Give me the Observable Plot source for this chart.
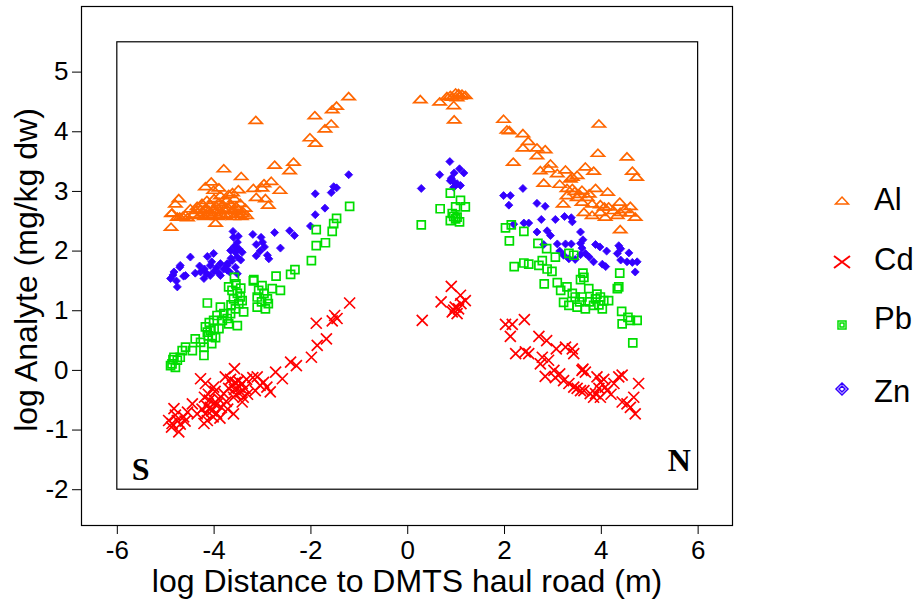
<!DOCTYPE html>
<html>
<head>
<meta charset="utf-8">
<script src="https://cdn.jsdelivr.net/npm/d3@7"></script>
<script src="https://cdn.jsdelivr.net/npm/@observablehq/plot@0.6"></script>
<style>
  html, body { margin: 0; padding: 0; background: #fff; }
  #wrap { position: relative; width: 914px; height: 614px; }
  #legend { position: absolute; left: 0; top: 0; pointer-events: none; }
</style>
</head>
<body>
<div id="wrap"></div>
<script>
// ---------- data ----------
const xTicks = [-6, -4, -2, 0, 2, 4, 6];
const yTicks = [-2, -1, 0, 1, 2, 3, 4, 5];
const xTitle = "log Distance to DMTS haul road (m)";
const yTitle = "log Analyte (mg/kg dw)";
const seriesNames = ["Al", "Cd", "Pb", "Zn"];
const seriesColors = ["#FF6600", "#FF0000", "#00DD00", "#3300FF"];
const cornerLabels = [{x: -5.52, y: -1.66, label: "S"}, {x: 5.61, y: -1.52, label: "N"}];
const innerBox = [{x1: -6, x2: 6, y1: -2, y2: 5.5}];

const al = [
  [-4.89,2.40],[-4.88,2.63],[-4.87,2.64],[-4.80,2.79],[-4.73,2.88],[-4.76,2.57],[-4.59,2.60],[-4.49,2.71],[-4.71,2.57],[-4.65,2.58],[-4.55,2.56],
  [-4.42,2.62],[-4.38,2.68],[-4.35,2.75],[-4.30,2.60],[-4.28,2.70],[-4.25,2.80],[-4.22,2.65],[-4.20,2.58],[-4.18,2.72],[-4.15,2.85],[-4.12,2.62],
  [-4.10,2.68],[-4.08,2.78],[-4.05,2.60],[-4.02,2.70],[-4.00,2.88],[-3.98,2.65],[-3.95,2.75],[-3.92,2.58],[-3.90,2.82],[-3.88,2.68],[-3.85,2.62],
  [-3.82,2.78],[-3.80,2.70],[-3.76,2.60],[-3.74,2.85],[-3.70,2.72],[-3.68,2.62],[-3.65,2.78],[-3.62,2.68],[-3.60,2.58],[-3.58,2.88],[-3.55,2.75],
  [-3.52,2.62],[-3.50,2.70],[-3.46,2.80],[-3.44,2.58],[-3.40,2.66],[-3.36,2.72],[-3.33,2.60],[-3.42,2.63],
  [-3.97,2.47],[-4.06,3.16],[-4.18,3.08],[-3.90,3.06],[-4.01,3.02],[-3.87,2.93],[-3.80,3.38],[-3.44,3.25],[-3.50,3.03],[-3.19,3.05],
  [-3.14,4.19],[-3.13,2.90],[-3.01,3.06],[-2.97,3.13],[-2.94,2.88],[-2.88,2.77],[-2.82,3.17],[-2.75,3.44],[-2.64,3.02],[-2.44,3.35],
  [-2.36,3.49],[-2.02,3.90],[-1.91,3.81],[-1.92,4.27],[-1.71,4.05],[-1.58,4.13],[-1.56,4.37],[-1.47,4.43],[-1.22,4.59],[-3.70,2.95],[-3.62,2.98],
  [0.26,4.54],[0.66,4.50],[0.95,4.44],[0.81,4.59],[0.88,4.61],[0.99,4.65],[1.05,4.64],[1.12,4.63],[1.19,4.61],[0.96,4.20],[0.92,4.58],[1.02,4.57],[1.08,4.60],
  [1.98,4.21],[2.05,4.03],[2.10,4.02],[2.38,3.97],[2.49,3.84],[2.38,3.73],[2.67,3.73],[2.84,3.70],[2.67,3.60],[2.18,3.49],[2.95,3.46],
  [2.74,3.35],[2.91,3.38],[3.09,3.30],[3.26,3.36],[3.36,3.21],[3.40,3.24],[3.50,3.27],[3.67,3.41],[3.84,3.34],[3.93,3.64],[3.95,4.13],
  [4.53,3.58],[4.64,3.34],[4.73,3.24],[2.81,3.14],[3.14,3.12],[3.29,3.05],[3.40,3.05],[3.60,3.02],[3.88,3.05],[4.13,2.99],[3.29,2.93],
  [3.50,2.90],[3.71,2.90],[3.21,2.79],[3.60,2.82],[3.81,2.79],[3.98,2.78],[4.06,2.74],[4.15,2.74],[4.38,2.82],[4.60,2.75],[3.64,2.65],
  [3.81,2.60],[3.98,2.65],[4.08,2.57],[4.33,2.60],[4.39,2.65],[4.59,2.64],[4.70,2.57],[4.39,2.36],[3.45,3.00],[3.55,2.95],[3.75,2.96],[4.25,2.68],[4.48,2.70]
];

const cd = [
  [-1.20,1.13],[-1.51,0.92],[-1.46,0.87],[-1.56,0.83],[-1.89,0.79],[-1.68,0.53],[-1.87,0.42],[-1.99,0.22],[-2.42,0.14],[-2.30,0.08],
  [-2.73,-0.03],[-2.59,-0.14],[-2.98,-0.20],[-2.91,-0.28],[-2.84,-0.36],[-3.11,-0.11],[-3.15,-0.34],[-3.58,0.03],[-3.77,-0.11],[-3.56,-0.20],
  [-3.66,-0.15],[-3.62,-0.25],[-3.58,-0.32],[-3.55,-0.40],[-3.50,-0.18],[-3.48,-0.28],[-3.45,-0.36],[-3.42,-0.22],[-3.40,-0.45],[-3.36,-0.30],
  [-3.33,-0.15],[-3.31,-0.40],[-3.60,-0.45],[-3.70,-0.30],[-3.42,-0.53],[-3.60,-0.73],[-3.80,-0.39],[-3.94,-0.56],[-4.08,-0.62],[-4.18,-0.73],
  [-4.14,-0.84],[-4.21,-0.89],[-4.28,-0.14],[-4.18,-0.22],[-4.01,-0.28],[-4.45,-0.56],[-4.35,-0.73],[-4.83,-0.64],[-4.87,-0.89],[-4.76,-0.84],
  [-4.63,-0.78],[-4.73,-1.03],[-4.94,-0.84],[-4.10,-0.50],[-4.05,-0.68],[-4.00,-0.55],[-3.95,-0.72],[-3.90,-0.48],[-3.85,-0.62],[-4.15,-0.60],
  [-4.20,-0.45],[-3.75,-0.52],[-3.88,-0.80],[-4.02,-0.78],[-3.72,-0.65],[-4.25,-0.65],[-4.12,-0.40],[-4.55,-0.70],[-4.70,-0.90],[-4.80,-0.75],
  [-4.88,-0.95],[-4.60,-0.85],[-3.98,-0.35],[-3.20,-0.12],[-3.05,-0.25],
  [0.30,0.84],[0.90,1.41],[0.69,1.15],[1.09,1.26],[1.19,1.17],[0.95,1.01],[1.02,0.95],[0.92,0.98],[1.05,1.03],[0.98,1.06],[1.10,1.12],
  [2.02,0.77],[2.16,0.77],[2.41,0.85],[2.12,0.57],[2.71,0.57],[2.87,0.50],[2.23,0.28],[2.43,0.31],[2.50,0.28],[3.07,0.36],[3.26,0.39],
  [3.40,0.36],[3.43,0.28],[2.78,0.22],[2.91,0.17],[2.74,0.11],[2.84,-0.10],[3.02,0.00],[3.14,-0.06],[3.60,0.00],[3.67,-0.03],[3.22,-0.17],
  [3.33,-0.22],[3.43,-0.28],[3.57,-0.34],[3.91,-0.11],[3.98,-0.20],[4.08,-0.28],[3.88,-0.39],[3.98,-0.45],[4.12,-0.34],[4.26,-0.22],
  [4.36,-0.11],[4.43,-0.08],[4.77,-0.22],[4.43,-0.53],[4.53,-0.56],[4.67,-0.45],[4.70,-0.73],[4.60,-0.62],[3.64,-0.34],[3.77,-0.39],
  [3.84,-0.45],[3.05,-0.12],[3.50,-0.30],[3.62,0.02],[3.95,-0.30],[4.05,-0.15],[4.20,-0.40]
];

const pb = [
  [-1.20,2.75],[-1.47,2.55],[-1.53,2.46],[-1.56,2.33],[-1.89,2.36],[-1.70,2.14],[-1.89,2.09],[-1.99,1.84],[-2.33,1.69],[-2.42,1.61],
  [-2.72,1.58],[-3.18,1.52],[-3.58,1.56],[-3.19,1.50],[-3.01,1.42],[-2.80,1.37],[-2.63,1.34],[-3.11,1.23],[-2.90,1.20],[-2.97,1.29],
  [-3.08,1.34],[-3.11,1.06],[-2.94,1.03],[-3.70,1.40],[-3.63,1.34],[-3.52,1.29],[-3.46,1.23],[-3.42,1.17],[-3.49,1.12],[-3.56,1.03],
  [-3.66,0.95],[-3.39,0.98],[-3.52,0.75],[-4.14,1.13],[-3.87,1.06],[-3.80,0.95],[-3.94,0.92],[-4.01,0.84],[-3.83,0.84],[-3.73,0.87],
  [-3.70,0.78],[-4.18,0.73],[-4.14,0.64],[-4.08,0.67],[-4.04,0.56],[-3.97,0.55],[-4.21,0.39],[-4.21,0.25],[-4.28,0.47],[-4.39,0.53],
  [-4.45,0.33],[-4.59,0.39],[-4.66,0.33],[-4.70,0.22],[-4.76,0.17],[-4.83,0.22],[-4.87,0.11],[-4.90,0.08],[-3.60,1.20],[-3.55,1.45],
  [-3.45,1.38],[-3.65,1.10],[-4.00,0.70],[-4.10,0.80],[-3.90,0.70],[-4.05,0.45],[-4.12,0.58],[-4.80,0.05],[-4.85,0.18],[-2.88,1.12],[-3.02,1.15],
  [0.88,2.97],[1.09,2.85],[1.19,2.74],[0.99,2.74],[0.67,2.71],[0.92,2.63],[1.02,2.57],[0.88,2.51],[1.07,2.49],[0.99,2.54],[0.28,2.44],[0.95,2.58],
  [2.02,2.39],[2.14,2.44],[2.40,2.33],[2.10,2.17],[2.69,2.13],[2.87,2.04],[3.05,1.90],[3.33,1.96],[3.43,1.93],[2.78,1.84],[2.20,1.74],
  [2.40,1.80],[2.50,1.78],[2.71,1.76],[2.88,1.70],[2.98,1.66],[3.62,1.63],[4.38,1.63],[3.64,1.56],[3.57,1.52],[2.82,1.45],[3.09,1.47],
  [3.16,1.34],[3.29,1.40],[3.40,1.29],[3.22,1.14],[3.33,1.09],[3.50,1.06],[3.67,1.03],[3.46,1.23],[3.60,1.23],[3.74,1.37],[3.84,1.09],
  [3.91,1.28],[3.98,1.23],[4.05,1.17],[4.02,1.03],[4.15,1.17],[4.33,1.37],[4.36,1.40],[4.42,0.99],[4.55,0.89],[4.43,0.78],[4.60,0.84],
  [4.74,0.84],[4.65,0.46],[3.55,1.15],[3.75,1.15],[3.95,1.10],[3.88,1.20]
];

const zn = [
  [-1.22,3.28],[-1.53,3.08],[-1.47,3.06],[-1.58,2.98],[-1.91,2.96],[-1.71,2.72],[-1.91,2.61],[-2.01,2.42],[-2.44,2.34],[-2.34,2.26],
  [-2.75,2.31],[-2.63,2.05],[-3.20,2.28],[-3.03,2.23],[-3.13,2.11],[-3.13,1.92],[-2.96,2.07],[-2.90,1.93],[-2.87,1.87],[-3.61,2.33],
  [-3.60,2.23],[-3.52,2.15],[-3.49,2.04],[-3.56,1.98],[-3.66,2.01],[-3.42,1.98],[-3.52,1.90],[-3.63,1.84],[-3.73,1.79],[-3.56,1.73],
  [-4.49,1.90],[-4.14,1.91],[-4.01,1.96],[-4.08,1.76],[-3.87,1.79],[-3.73,1.76],[-4.28,1.65],[-4.21,1.54],[-4.08,1.59],[-3.87,1.59],
  [-3.73,1.68],[-3.52,1.62],[-4.59,1.59],[-4.39,1.63],[-4.70,1.76],[-4.83,1.65],[-4.90,1.54],[-4.76,1.40],[-4.71,1.73],[-4.63,1.58],
  [-4.20,1.70],[-4.15,1.62],[-4.00,1.66],[-3.95,1.72],[-3.90,1.63],[-3.80,1.70],[-3.65,1.88],[-3.58,2.08],[-3.68,1.65],[-4.30,1.75],
  [-4.05,1.82],[-3.50,2.25],[-3.45,1.85],[-4.85,1.60],[-4.78,1.50],[-3.00,2.15],[-3.05,2.00],
  [0.28,3.05],[0.87,3.50],[0.66,3.28],[0.96,3.31],[1.07,3.38],[1.16,3.31],[0.88,3.18],[0.95,3.16],[1.02,3.13],[1.09,3.10],[0.95,3.07],[0.90,3.22],
  [1.98,2.93],[2.12,2.93],[2.09,2.77],[2.38,3.05],[2.67,2.80],[2.84,2.75],[2.19,2.45],[2.40,2.47],[2.50,2.47],[2.76,2.53],[3.05,2.53],
  [3.24,2.58],[3.38,2.56],[3.40,2.49],[2.67,2.32],[2.88,2.34],[2.95,2.26],[2.81,2.11],[3.09,2.12],[3.26,2.12],[3.38,2.12],[3.57,2.32],
  [3.62,2.19],[3.57,2.13],[3.14,2.00],[3.22,1.93],[3.33,1.87],[3.46,1.86],[3.57,1.94],[3.67,1.96],[3.88,2.11],[3.97,2.07],[4.11,2.00],
  [3.84,1.82],[4.02,1.78],[4.09,1.74],[4.36,2.09],[4.40,2.04],[4.33,1.96],[4.57,1.97],[4.40,1.85],[4.53,1.82],[4.64,1.81],[4.74,1.82],
  [4.70,1.65],[3.60,2.05],[3.75,1.90]
];

// ---------- symbols ----------
const triSym = {draw(c) { c.moveTo(0, -4); c.lineTo(6.5, 3); c.lineTo(-6.5, 3); c.closePath(); }};
const crossSym = {draw(c) { c.moveTo(-5.5, -5.5); c.lineTo(5.5, 5.5); c.moveTo(5.5, -5.5); c.lineTo(-5.5, 5.5); }};
const squareSym = {draw(c) { c.moveTo(-4, -4); c.lineTo(4, -4); c.lineTo(4, 4); c.lineTo(-4, 4); c.closePath(); }};
const diamondSym = {draw(c) { c.moveTo(0, -4); c.lineTo(4, 0); c.lineTo(0, 4); c.lineTo(-4, 0); c.closePath(); }};

const toRows = (arr) => arr.map(([x, y]) => ({x, y}));

const plot = Plot.plot({
  width: 914,
  height: 614,
  marginLeft: 81,
  marginRight: 182,
  marginTop: 6,
  marginBottom: 89,
  style: {fontFamily: "'Liberation Sans', Arial, sans-serif", fontSize: "26px", color: "#000", background: "#fff"},
  x: {domain: [-6.74, 6.71]},
  y: {domain: [-2.6, 6.1]},
  marks: [
    Plot.frame({stroke: "#000", strokeWidth: 1.2}),
    Plot.rect(innerBox, {x1: "x1", x2: "x2", y1: "y1", y2: "y2", fill: "none", stroke: "#000", strokeWidth: 1.2}),
    Plot.axisY({ticks: yTicks, tickSize: 9, tickPadding: 4, fontSize: 26, label: null, tickFormat: d => String(d)}),
    Plot.axisX({ticks: xTicks, tickSize: 9, tickPadding: 6, fontSize: 26, label: null, tickFormat: d => String(d)}),
    Plot.dot(toRows(al), {x: "x", y: "y", symbol: triSym, fill: "none", stroke: seriesColors[0], strokeWidth: 1.7}),
    Plot.dot(toRows(zn), {x: "x", y: "y", symbol: diamondSym, fill: seriesColors[3], stroke: seriesColors[3], strokeWidth: 0.8}),
    Plot.dot(toRows(pb), {x: "x", y: "y", symbol: squareSym, fill: "none", stroke: seriesColors[2], strokeWidth: 1.7}),
    Plot.dot(toRows(cd), {x: "x", y: "y", symbol: crossSym, fill: "none", stroke: seriesColors[1], strokeWidth: 1.7}),
    Plot.text(cornerLabels, {x: "x", y: "y", text: "label", fontFamily: "'Liberation Serif', 'Times New Roman', serif", fontWeight: "bold", fontSize: 32}),
    Plot.text([xTitle], {frameAnchor: "bottom", text: d => d, dy: 66, fontSize: 32}),
    Plot.text([yTitle], {frameAnchor: "left", textAnchor: "middle", text: d => d, dx: -55, dy: 4, rotate: -90, fontSize: 32})
  ]
});

const wrap = document.getElementById("wrap");
wrap.appendChild(plot);

// ---------- legend ----------
const leg = d3.select(wrap).append("svg")
  .attr("id", "legend").attr("width", 914).attr("height", 614);
const legY = [201, 262, 325, 389];
const legText = [199, 259, 318, 391];
const legendShapes = [
  "M0,-4L6.5,3L-6.5,3Z",
  "M-8,-6L8,6M8,-6L-8,6",
  "M-4,-4H4V4H-4ZM-2,-2H2V2H-2Z",
  "M0,-6L6,0L0,6L-6,0ZM0,-3L3,0L0,3L-3,0Z"
];
seriesNames.forEach((name, i) => {
  leg.append("path")
    .attr("d", legendShapes[i])
    .attr("transform", `translate(842,${legY[i]})`)
    .attr("fill", "none")
    .attr("stroke", seriesColors[i])
    .attr("stroke-width", i === 1 ? 2 : 1.5);
  leg.append("text")
    .attr("x", 874).attr("y", legText[i])
    .attr("dy", "0.35em")
    .attr("font-family", "'Liberation Sans', Arial, sans-serif")
    .attr("font-size", 31)
    .attr("fill", "#000")
    .text(name);
});
</script>
</body>
</html>
